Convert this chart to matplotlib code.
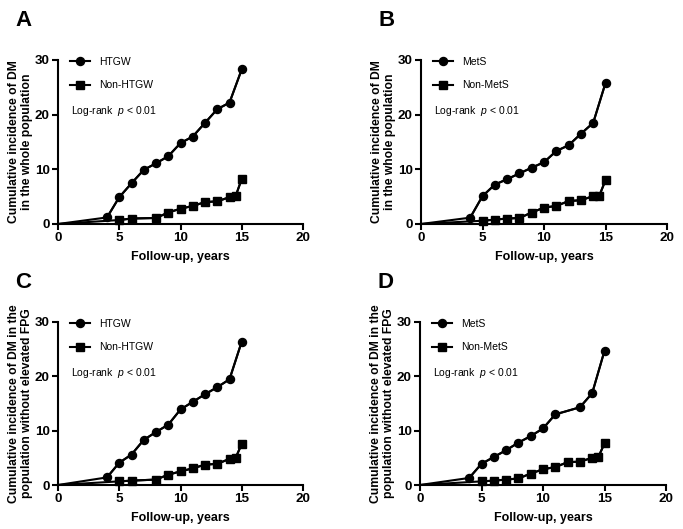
import numpy as np
import matplotlib
matplotlib.use('Agg')
import matplotlib.pyplot as plt

plt.rcParams['font.family'] = ['Liberation Sans', 'DejaVu Sans']
plt.rcParams['mathtext.fontset'] = 'custom'
plt.rcParams['mathtext.it'] = 'Liberation Sans:italic'
plt.rcParams['mathtext.rm'] = 'Liberation Sans'

# panel A: HTGW, whole population
a_x1 = [0, 4, 5, 6, 7, 8, 9, 10, 11, 12, 13, 14, 15]
a_y1 = [0, 1.2, 4.9, 7.45, 9.9, 11.1, 12.4, 14.8, 16.0, 18.5, 21.0, 22.2, 28.3]
a_x2 = [0, 5, 6, 8, 9, 10, 11, 12, 13, 14, 14.5, 15]
a_y2 = [0, 0.73, 1.0, 1.1, 2.1, 2.8, 3.3, 4.0, 4.15, 4.9, 5.1, 8.25]

# panel B: MetS, whole population
b_x1 = [0, 4, 5, 6, 7, 8, 9, 10, 11, 12, 13, 14, 15]
b_y1 = [0, 1.16, 5.1, 7.2, 8.2, 9.25, 10.3, 11.3, 13.35, 14.4, 16.5, 18.5, 25.8]
b_x2 = [0, 5, 6, 7, 8, 9, 10, 11, 12, 13, 14, 14.5, 15]
b_y2 = [0, 0.6, 0.8, 1.0, 1.1, 2.1, 3.0, 3.3, 4.2, 4.35, 5.1, 5.2, 8.0]

# panel C: HTGW, without elevated FPG
c_x1 = [0, 4, 5, 6, 7, 8, 9, 10, 11, 12, 13, 14, 15]
c_y1 = [0, 1.4, 4.1, 5.6, 8.3, 9.75, 11.1, 13.9, 15.3, 16.7, 18.0, 19.45, 26.4]
c_x2 = [0, 5, 6, 8, 9, 10, 11, 12, 13, 14, 14.5, 15]
c_y2 = [0, 0.67, 0.8, 1.0, 1.9, 2.5, 3.07, 3.74, 3.9, 4.8, 5.0, 7.55]

# panel D: MetS, without elevated FPG
d_x1 = [0, 4, 5, 6, 7, 8, 9, 10, 11, 13, 14, 15]
d_y1 = [0, 1.3, 3.9, 5.15, 6.4, 7.8, 9.0, 10.4, 13.0, 14.3, 16.9, 24.7]
d_x2 = [0, 5, 6, 7, 8, 9, 10, 11, 12, 13, 14, 14.5, 15]
d_y2 = [0, 0.67, 0.8, 1.0, 1.2, 2.1, 2.9, 3.3, 4.2, 4.3, 5.0, 5.15, 7.65]

ylab_whole = 'Cumulative incidence of DM\nin the whole population'
ylab_fpg = 'Cumulative incidence of DM in the\npopulation without elevated FPG'

panels = [
    ('A', [58, 60, 303, 224], a_x1, a_y1, a_x2, a_y2, 'HTGW', 'Non-HTGW', ylab_whole),
    ('B', [421, 60, 667, 224], b_x1, b_y1, b_x2, b_y2, 'MetS', 'Non-MetS', ylab_whole),
    ('C', [58, 322, 303, 485], c_x1, c_y1, c_x2, c_y2, 'HTGW', 'Non-HTGW', ylab_fpg),
    ('D', [420, 322, 666, 485], d_x1, d_y1, d_x2, d_y2, 'MetS', 'Non-MetS', ylab_fpg),
]

W, H = 683, 529
fig = plt.figure(figsize=(W/100, H/100), dpi=100)

for letter, (l, t, r, b), x1, y1, x2, y2, lab1, lab2, ylab in panels:
    ax = fig.add_axes([l/W, 1-b/H, (r-l)/W, (b-t)/H])
    # line starts at the origin, markers only on the observed points
    ax.plot(x1, y1, '-', color='black', lw=1.5)
    ax.plot(x2, y2, '-', color='black', lw=1.5)
    ax.plot(x1[1:], y1[1:], '-o', color='black', lw=1.5, ms=5.8, label=lab1, clip_on=False)
    ax.plot(x2[1:], y2[1:], '-s', color='black', lw=1.5, ms=5.8, label=lab2, clip_on=False)
    ax.set_xlim(0, 20)
    ax.set_ylim(0, 30)
    ax.set_xticks([0, 5, 10, 15, 20])
    ax.set_yticks([0, 10, 20, 30])
    for s in ['top', 'right']:
        ax.spines[s].set_visible(False)
    for s in ['left', 'bottom']:
        ax.spines[s].set_linewidth(1.5)
    ax.tick_params(width=1.5, length=4, labelsize=9.7, pad=2)
    for lbl in ax.get_xticklabels() + ax.get_yticklabels():
        lbl.set_fontweight('bold')
    ax.set_xlabel('Follow-up, years', fontsize=9, fontweight='bold', labelpad=5)
    ax.set_ylabel(ylab, fontsize=8.7, fontweight='bold', labelpad=1, linespacing=1.2)
    ax.legend(loc='upper left', bbox_to_anchor=(0.05, 1.02), frameon=False, fontsize=7.5,
              handlelength=1.9, handletextpad=0.9, labelspacing=1.3, borderpad=0, borderaxespad=0)
    ax.text(0.053, 0.69, 'Log-rank  $\\it{p}$ < 0.01', transform=ax.transAxes, fontsize=7.5, va='center')
    fig.text((l - 43)/W, 1 - 20/H if t < 200 else 1 - 282/H, letter, fontsize=16, fontweight='bold', va='center')

fig.savefig('out.png', dpi=100)
